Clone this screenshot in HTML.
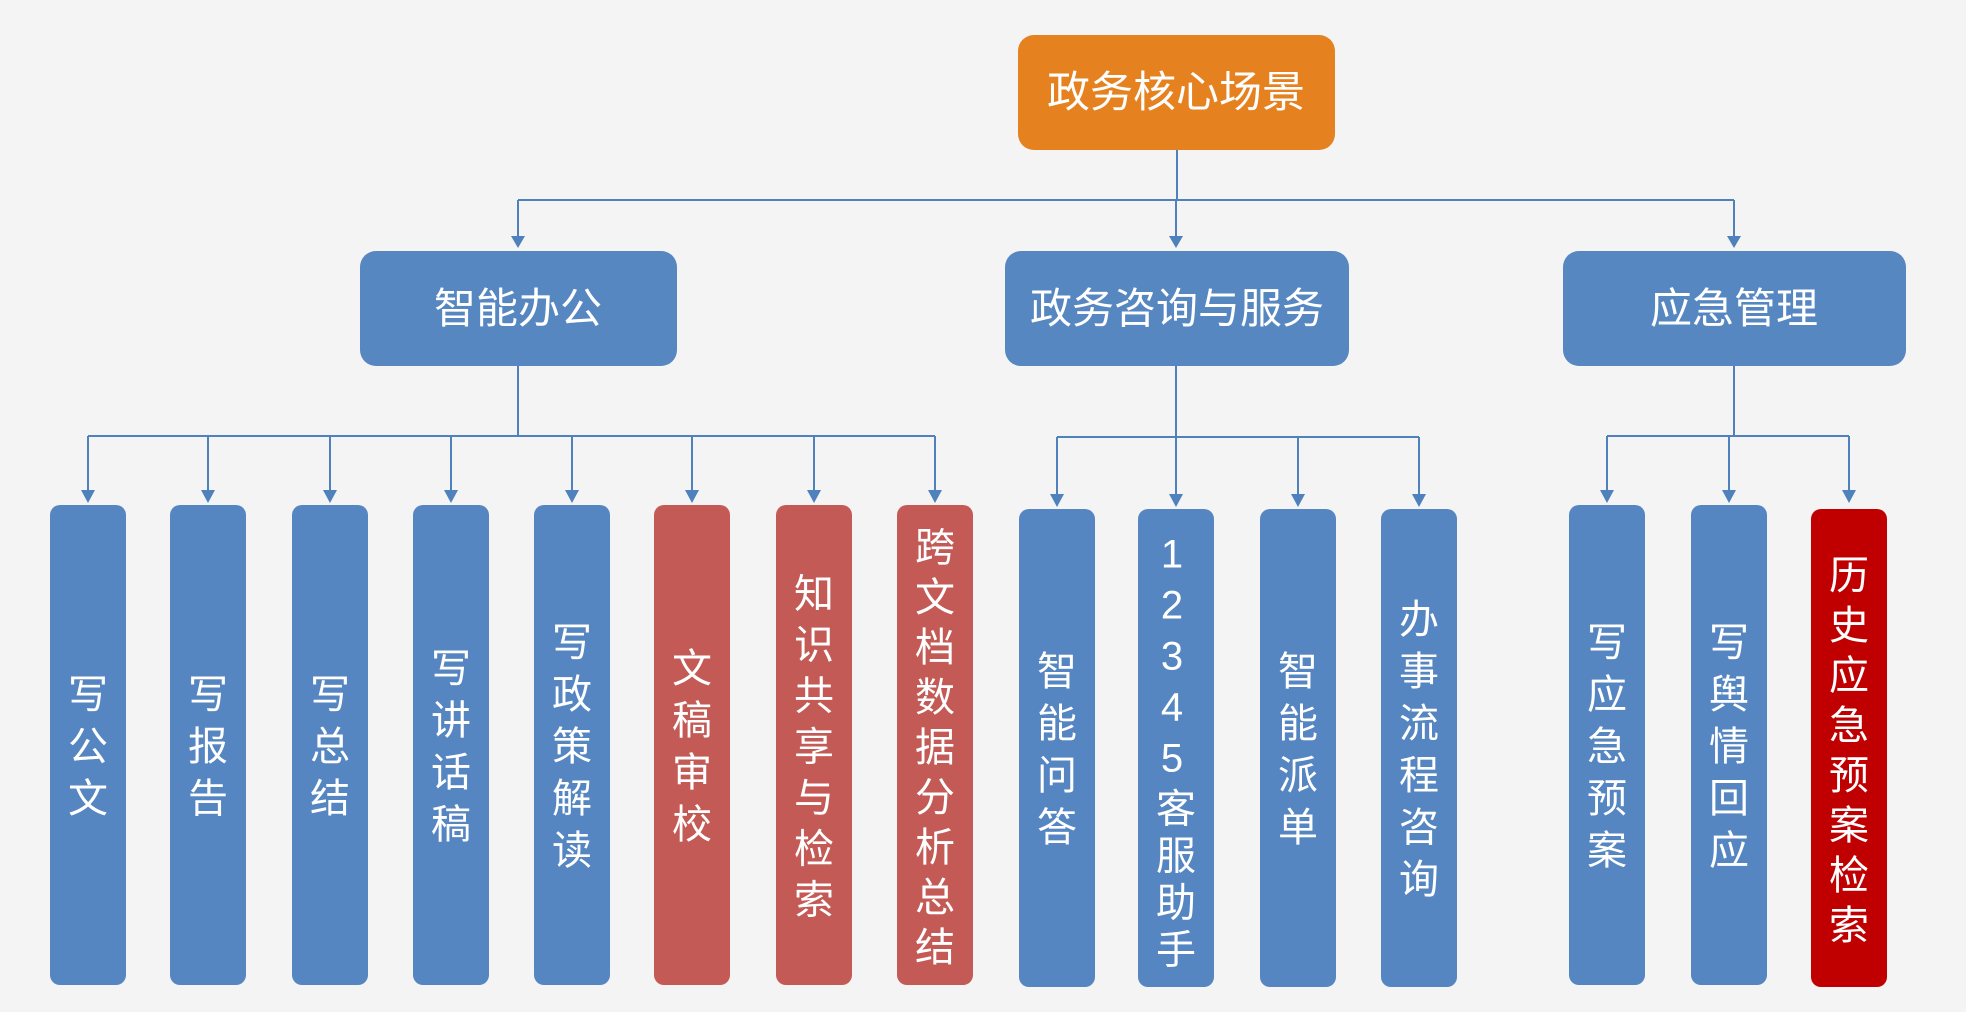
<!DOCTYPE html>
<html><head><meta charset="utf-8"><style>
html,body{margin:0;padding:0;background:#f4f4f4;}
svg{display:block}
text{font-family:"Liberation Sans","Noto Sans CJK SC",sans-serif;fill:#fff}
</style></head><body>
<svg width="1966" height="1012" viewBox="0 0 1966 1012" xmlns="http://www.w3.org/2000/svg">
<rect width="1966" height="1012" fill="#f4f4f4"/>
<g stroke="#4f81bd" stroke-width="2" fill="none">
<path d="M1177,150 V200 M518,200 H1734"/>
<path d="M518,200 V240 M1176,200 V240 M1734,200 V240"/>
<path d="M518,366 V436 M88,436 H935"/>
<path d="M1176,366 V437 M1057,437 H1419"/>
<path d="M1734,366 V436 M1607,436 H1849"/>
<path d="M88,436V494 M208,436V494 M330,436V494 M451,436V494 M572,436V494 M692,436V494 M814,436V494 M935,436V494"/>
<path d="M1057,437V497 M1176,437V497 M1298,437V497 M1419,437V497"/>
<path d="M1607,436V494 M1729,436V494 M1849,436V494"/>
</g>
<g fill="#4f81bd">
<path d="M511,236h14l-7,12z M1169,236h14l-7,12z M1727,236h14l-7,12z"/>
<path d="M81,490h14l-7,13z M201,490h14l-7,13z M323,490h14l-7,13z M444,490h14l-7,13z M565,490h14l-7,13z M685,490h14l-7,13z M807,490h14l-7,13z M928,490h14l-7,13z"/>
<path d="M1050,494h14l-7,13z M1169,494h14l-7,13z M1291,494h14l-7,13z M1412,494h14l-7,13z"/>
<path d="M1600,490h14l-7,13z M1722,490h14l-7,13z M1842,490h14l-7,13z"/>
</g>
<rect x="1018" y="35" width="317" height="115" rx="16" fill="#e5811f"/>
<text x="1176" y="107" font-size="43" text-anchor="middle">政务核心场景</text>
<g fill="#5787c1">
<rect x="360" y="251" width="317" height="115" rx="16"/>
<rect x="1005" y="251" width="344" height="115" rx="16"/>
<rect x="1563" y="251" width="343" height="115" rx="16"/>
</g>
<g font-size="42" text-anchor="middle">
<text x="518" y="323">智能办公</text>
<text x="1177" y="323">政务咨询与服务</text>
<text x="1734" y="323">应急管理</text>
</g>
<g>
<rect x="50" y="505" width="76" height="480" rx="10" fill="#5586c2"/>
<rect x="170" y="505" width="76" height="480" rx="10" fill="#5586c2"/>
<rect x="292" y="505" width="76" height="480" rx="10" fill="#5586c2"/>
<rect x="413" y="505" width="76" height="480" rx="10" fill="#5586c2"/>
<rect x="534" y="505" width="76" height="480" rx="10" fill="#5586c2"/>
<rect x="654" y="505" width="76" height="480" rx="10" fill="#c45a55"/>
<rect x="776" y="505" width="76" height="480" rx="10" fill="#c45a55"/>
<rect x="897" y="505" width="76" height="480" rx="10" fill="#c45a55"/>
<rect x="1019" y="509" width="76" height="478" rx="10" fill="#5586c2"/>
<rect x="1138" y="509" width="76" height="478" rx="10" fill="#5586c2"/>
<rect x="1260" y="509" width="76" height="478" rx="10" fill="#5586c2"/>
<rect x="1381" y="509" width="76" height="478" rx="10" fill="#5586c2"/>
<rect x="1569" y="505" width="76" height="480" rx="10" fill="#5586c2"/>
<rect x="1691" y="505" width="76" height="480" rx="10" fill="#5586c2"/>
<rect x="1811" y="509" width="76" height="478" rx="10" fill="#c00000"/>
</g>
<g font-size="40" text-anchor="middle" style="writing-mode:vertical-rl;text-orientation:upright">
<text x="84" y="751" letter-spacing="12">写公文</text>
<text x="204" y="751" letter-spacing="12">写报告</text>
<text x="326" y="751" letter-spacing="12">写总结</text>
<text x="447" y="751" letter-spacing="12">写讲话稿</text>
<text x="568" y="751" letter-spacing="12">写政策解读</text>
<text x="688" y="751" letter-spacing="12">文稿审校</text>
<text x="810" y="751" letter-spacing="11">知识共享与检索</text>
<text x="931" y="751" letter-spacing="10">跨文档数据分析总结</text>
<text x="1053" y="754" letter-spacing="12">智能问答</text>
<text x="1172" y="754" letter-spacing="7">12345客服助手</text>
<text x="1294" y="754" letter-spacing="12">智能派单</text>
<text x="1415" y="754" letter-spacing="12">办事流程咨询</text>
<text x="1603" y="751" letter-spacing="12">写应急预案</text>
<text x="1725" y="751" letter-spacing="12">写舆情回应</text>
<text x="1845" y="754" letter-spacing="10">历史应急预案检索</text>
</g>
</svg>
</body></html>
